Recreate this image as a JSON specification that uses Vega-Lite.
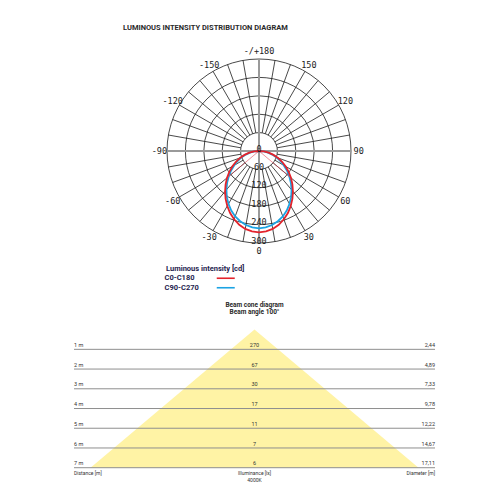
{
  "$schema": "https://vega.github.io/schema/vega-lite/v6.json",
  "description": "Luminous intensity distribution (polar) and beam cone diagram.",
  "padding": {"left": 73, "top": 0, "right": 0, "bottom": 0},
  "bounds": "flush",
  "spacing": 4,
  "background": "white",
  "config": {"view": {"stroke": null}, "text": {"font": "Roboto"}},
  "datasets": {
    "rings": [
      {"r": 0, "label": "0"},
      {"r": 60, "label": "60"},
      {"r": 120, "label": "120"},
      {"r": 180, "label": "180"},
      {"r": 240, "label": "240"},
      {"r": 300, "label": "300"}
    ],
    "spokes": [
      {"angle": 0}, {"angle": 10}, {"angle": 20}, {"angle": 30}, {"angle": 40}, {"angle": 50},
      {"angle": 60}, {"angle": 70}, {"angle": 80}, {"angle": 90}, {"angle": 100}, {"angle": 110},
      {"angle": 120}, {"angle": 130}, {"angle": 140}, {"angle": 150}, {"angle": 160}, {"angle": 170},
      {"angle": 180}, {"angle": 190}, {"angle": 200}, {"angle": 210}, {"angle": 220}, {"angle": 230},
      {"angle": 240}, {"angle": 250}, {"angle": 260}, {"angle": 270}, {"angle": 280}, {"angle": 290},
      {"angle": 300}, {"angle": 310}, {"angle": 320}, {"angle": 330}, {"angle": 340}, {"angle": 350}
    ],
    "angleLabels": [
      {"angle": 180, "label": "-/+180"},
      {"angle": 150, "label": "150"},
      {"angle": 120, "label": "120"},
      {"angle": 90, "label": "90"},
      {"angle": 60, "label": "60"},
      {"angle": 30, "label": "30"},
      {"angle": 0, "label": "0"},
      {"angle": -30, "label": "-30"},
      {"angle": -60, "label": "-60"},
      {"angle": -90, "label": "-90"},
      {"angle": -120, "label": "-120"},
      {"angle": -150, "label": "-150"}
    ],
    "beam": [
      {"angle": -50, "cd": 132},
      {"angle": 50, "cd": 132}
    ],
    "curves": [
      {"series": "C0-C180", "angle": -90, "cd": 0},
      {"series": "C0-C180", "angle": -85, "cd": 16},
      {"series": "C0-C180", "angle": -80, "cd": 32},
      {"series": "C0-C180", "angle": -75, "cd": 49},
      {"series": "C0-C180", "angle": -70, "cd": 66},
      {"series": "C0-C180", "angle": -65, "cd": 83},
      {"series": "C0-C180", "angle": -60, "cd": 100},
      {"series": "C0-C180", "angle": -55, "cd": 118},
      {"series": "C0-C180", "angle": -50, "cd": 136},
      {"series": "C0-C180", "angle": -45, "cd": 154},
      {"series": "C0-C180", "angle": -40, "cd": 172},
      {"series": "C0-C180", "angle": -35, "cd": 190},
      {"series": "C0-C180", "angle": -30, "cd": 207},
      {"series": "C0-C180", "angle": -25, "cd": 223},
      {"series": "C0-C180", "angle": -20, "cd": 237},
      {"series": "C0-C180", "angle": -15, "cd": 249},
      {"series": "C0-C180", "angle": -10, "cd": 258},
      {"series": "C0-C180", "angle": -5, "cd": 263},
      {"series": "C0-C180", "angle": 0, "cd": 265},
      {"series": "C0-C180", "angle": 5, "cd": 263},
      {"series": "C0-C180", "angle": 10, "cd": 258},
      {"series": "C0-C180", "angle": 15, "cd": 249},
      {"series": "C0-C180", "angle": 20, "cd": 237},
      {"series": "C0-C180", "angle": 25, "cd": 223},
      {"series": "C0-C180", "angle": 30, "cd": 207},
      {"series": "C0-C180", "angle": 35, "cd": 190},
      {"series": "C0-C180", "angle": 40, "cd": 172},
      {"series": "C0-C180", "angle": 45, "cd": 154},
      {"series": "C0-C180", "angle": 50, "cd": 136},
      {"series": "C0-C180", "angle": 55, "cd": 118},
      {"series": "C0-C180", "angle": 60, "cd": 100},
      {"series": "C0-C180", "angle": 65, "cd": 83},
      {"series": "C0-C180", "angle": 70, "cd": 66},
      {"series": "C0-C180", "angle": 75, "cd": 49},
      {"series": "C0-C180", "angle": 80, "cd": 32},
      {"series": "C0-C180", "angle": 85, "cd": 16},
      {"series": "C0-C180", "angle": 90, "cd": 0},
      {"series": "C90-C270", "angle": -90, "cd": 0},
      {"series": "C90-C270", "angle": -85, "cd": 15},
      {"series": "C90-C270", "angle": -80, "cd": 30},
      {"series": "C90-C270", "angle": -75, "cd": 45},
      {"series": "C90-C270", "angle": -70, "cd": 61},
      {"series": "C90-C270", "angle": -65, "cd": 77},
      {"series": "C90-C270", "angle": -60, "cd": 93},
      {"series": "C90-C270", "angle": -55, "cd": 111},
      {"series": "C90-C270", "angle": -50, "cd": 129},
      {"series": "C90-C270", "angle": -45, "cd": 147},
      {"series": "C90-C270", "angle": -40, "cd": 165},
      {"series": "C90-C270", "angle": -35, "cd": 183},
      {"series": "C90-C270", "angle": -30, "cd": 199},
      {"series": "C90-C270", "angle": -25, "cd": 214},
      {"series": "C90-C270", "angle": -20, "cd": 227},
      {"series": "C90-C270", "angle": -15, "cd": 237},
      {"series": "C90-C270", "angle": -10, "cd": 245},
      {"series": "C90-C270", "angle": -5, "cd": 250},
      {"series": "C90-C270", "angle": 0, "cd": 252},
      {"series": "C90-C270", "angle": 5, "cd": 250},
      {"series": "C90-C270", "angle": 10, "cd": 245},
      {"series": "C90-C270", "angle": 15, "cd": 237},
      {"series": "C90-C270", "angle": 20, "cd": 227},
      {"series": "C90-C270", "angle": 25, "cd": 214},
      {"series": "C90-C270", "angle": 30, "cd": 199},
      {"series": "C90-C270", "angle": 35, "cd": 183},
      {"series": "C90-C270", "angle": 40, "cd": 165},
      {"series": "C90-C270", "angle": 45, "cd": 147},
      {"series": "C90-C270", "angle": 50, "cd": 129},
      {"series": "C90-C270", "angle": 55, "cd": 111},
      {"series": "C90-C270", "angle": 60, "cd": 93},
      {"series": "C90-C270", "angle": 65, "cd": 77},
      {"series": "C90-C270", "angle": 70, "cd": 61},
      {"series": "C90-C270", "angle": 75, "cd": 45},
      {"series": "C90-C270", "angle": 80, "cd": 30},
      {"series": "C90-C270", "angle": 85, "cd": 15},
      {"series": "C90-C270", "angle": 90, "cd": 0}
    ],
    "cone": [
      {"d": 1, "label": "1 m", "lux": 270, "diam": "2,44"},
      {"d": 2, "label": "2 m", "lux": 67, "diam": "4,89"},
      {"d": 3, "label": "3 m", "lux": 30, "diam": "7,33"},
      {"d": 4, "label": "4 m", "lux": 17, "diam": "9,78"},
      {"d": 5, "label": "5 m", "lux": 11, "diam": "12,22"},
      {"d": 6, "label": "6 m", "lux": 7, "diam": "14,67"},
      {"d": 7, "label": "7 m", "lux": 6, "diam": "17,11"}
    ],
    "coneShape": [
      {"d": 0, "left": 0, "right": 0},
      {"d": 7, "left": -8.555, "right": 8.555}
    ]
  },
  "vconcat": [
    {
      "width": 361,
      "height": 296,
      "title": {
        "text": "LUMINOUS INTENSITY DISTRIBUTION DIAGRAM",
        "anchor": "start",
        "frame": "group",
        "offset": -35,
        "dx": 49,
        "baseline": "middle",
        "font": "Roboto",
        "fontSize": 7.5,
        "fontWeight": "bold",
        "color": "#2a2a2a"
      },
      "layer": [
        {
          "data": {"name": "rings"},
          "transform": [{"filter": "datum.r > 0"}],
          "mark": {"type": "point", "shape": "circle", "filled": false, "stroke": "#1a1a1a", "strokeWidth": 0.8, "opacity": 1},
          "encoding": {
            "x": {"datum": 0, "type": "quantitative", "scale": {"domain": [-603.26, 573.91], "nice": false, "zero": false}, "axis": null},
            "y": {"datum": 0, "type": "quantitative", "scale": {"domain": [-472.8, 492.4], "nice": false, "zero": false}, "axis": null},
            "size": {"field": "r", "type": "quantitative", "scale": {"type": "pow", "exponent": 2, "domain": [0, 300], "range": [0, 33856]}, "legend": null}
          }
        },
        {
          "data": {"name": "spokes"},
          "transform": [
            {"calculate": "60 * sin(datum.angle * PI / 180)", "as": "sx1"},
            {"calculate": "-60 * cos(datum.angle * PI / 180)", "as": "sy1"},
            {"calculate": "300 * sin(datum.angle * PI / 180)", "as": "sx2"},
            {"calculate": "-300 * cos(datum.angle * PI / 180)", "as": "sy2"}
          ],
          "mark": {"type": "rule", "color": "#1a1a1a", "strokeWidth": 0.8},
          "encoding": {
            "x": {"field": "sx1", "type": "quantitative", "scale": {"domain": [-603.26, 573.91], "nice": false, "zero": false}, "axis": null},
            "y": {"field": "sy1", "type": "quantitative", "scale": {"domain": [-472.8, 492.4], "nice": false, "zero": false}, "axis": null},
            "x2": {"field": "sx2"},
            "y2": {"field": "sy2"}
          }
        },
        {
          "data": {"name": "spokes"},
          "transform": [
            {"filter": "datum.angle == 0 || datum.angle == 90"},
            {"calculate": "-300 * sin(datum.angle * PI / 180)", "as": "ax1"},
            {"calculate": "300 * cos(datum.angle * PI / 180)", "as": "ay1"},
            {"calculate": "300 * sin(datum.angle * PI / 180)", "as": "ax2"},
            {"calculate": "-300 * cos(datum.angle * PI / 180)", "as": "ay2"}
          ],
          "mark": {"type": "rule", "color": "#9a9a9a", "strokeWidth": 2},
          "encoding": {
            "x": {"field": "ax1", "type": "quantitative", "scale": {"domain": [-603.26, 573.91], "nice": false, "zero": false}, "axis": null},
            "y": {"field": "ay1", "type": "quantitative", "scale": {"domain": [-472.8, 492.4], "nice": false, "zero": false}, "axis": null},
            "x2": {"field": "ax2"},
            "y2": {"field": "ay2"}
          }
        },
        {
          "data": {"name": "curves"},
          "transform": [
            {"filter": "datum.series === 'C90-C270'"},
            {"calculate": "datum.cd * sin(datum.angle * PI / 180)", "as": "px"},
            {"calculate": "-datum.cd * cos(datum.angle * PI / 180)", "as": "py"}
          ],
          "mark": {"type": "line", "strokeWidth": 1.8},
          "encoding": {
            "x": {"field": "px", "type": "quantitative", "scale": {"domain": [-603.26, 573.91], "nice": false, "zero": false}, "axis": null},
            "y": {"field": "py", "type": "quantitative", "scale": {"domain": [-472.8, 492.4], "nice": false, "zero": false}, "axis": null},
            "order": {"field": "angle", "type": "quantitative"},
            "stroke": {
              "field": "series",
              "type": "nominal",
              "scale": {"domain": ["C0-C180", "C90-C270"], "range": ["#e3232c", "#1ca3e3"]},
              "legend": {
                "title": "Luminous intensity [cd]",
                "orient": "none",
                "legendX": 92,
                "legendY": 265,
                "direction": "vertical",
                "padding": 0,
                "symbolType": "M47,0L65,0",
                "symbolSize": 4,
                "symbolStrokeWidth": 1.6,
                "labelOffset": -9,
                "labelFont": "Roboto",
                "labelFontSize": 7.5,
                "labelFontWeight": "bold",
                "labelColor": "#262450",
                "titleFont": "Roboto",
                "titleFontSize": 7.5,
                "titleFontWeight": "bold",
                "titleColor": "#262450",
                "titlePadding": 2,
                "rowPadding": 0.5
              }
            }
          }
        },
        {
          "data": {"name": "curves"},
          "transform": [
            {"filter": "datum.series === 'C0-C180'"},
            {"calculate": "datum.cd * sin(datum.angle * PI / 180)", "as": "px"},
            {"calculate": "-datum.cd * cos(datum.angle * PI / 180)", "as": "py"}
          ],
          "mark": {"type": "line", "strokeWidth": 1.8},
          "encoding": {
            "x": {"field": "px", "type": "quantitative", "scale": {"domain": [-603.26, 573.91], "nice": false, "zero": false}, "axis": null},
            "y": {"field": "py", "type": "quantitative", "scale": {"domain": [-472.8, 492.4], "nice": false, "zero": false}, "axis": null},
            "order": {"field": "angle", "type": "quantitative"},
            "stroke": {"field": "series", "type": "nominal"}
          }
        },
        {
          "data": {"name": "beam"},
          "transform": [
            {"calculate": "0", "as": "bx0"},
            {"calculate": "0", "as": "by0"},
            {"calculate": "datum.cd * sin(datum.angle * PI / 180)", "as": "bx"},
            {"calculate": "-datum.cd * cos(datum.angle * PI / 180)", "as": "by"}
          ],
          "mark": {"type": "rule", "color": "#e0485a", "strokeWidth": 0.6},
          "encoding": {
            "x": {"field": "bx0", "type": "quantitative", "scale": {"domain": [-603.26, 573.91], "nice": false, "zero": false}, "axis": null},
            "y": {"field": "by0", "type": "quantitative", "scale": {"domain": [-472.8, 492.4], "nice": false, "zero": false}, "axis": null},
            "x2": {"field": "bx"},
            "y2": {"field": "by"}
          }
        },
        {
          "data": {"name": "rings"},
          "transform": [{"calculate": "-datum.r", "as": "ry"}],
          "mark": {"type": "text", "font": "DejaVu Sans Mono", "fontSize": 8.5, "align": "center", "baseline": "alphabetic", "dy": 0.5, "color": "#222222"},
          "encoding": {
            "x": {"datum": 0, "type": "quantitative", "scale": {"domain": [-603.26, 573.91], "nice": false, "zero": false}, "axis": null},
            "y": {"field": "ry", "type": "quantitative", "scale": {"domain": [-472.8, 492.4], "nice": false, "zero": false}, "axis": null},
            "text": {"field": "label", "type": "nominal"}
          }
        },
        {
          "data": {"name": "angleLabels"},
          "transform": [
            {"calculate": "325 * sin(datum.angle * PI / 180)", "as": "lx"},
            {"calculate": "-325 * cos(datum.angle * PI / 180)", "as": "ly"}
          ],
          "mark": {"type": "text", "font": "DejaVu Sans Mono", "fontSize": 8.5, "align": "center", "baseline": "middle", "color": "#222222"},
          "encoding": {
            "x": {"field": "lx", "type": "quantitative", "scale": {"domain": [-603.26, 573.91], "nice": false, "zero": false}, "axis": null},
            "y": {"field": "ly", "type": "quantitative", "scale": {"domain": [-472.8, 492.4], "nice": false, "zero": false}, "axis": null},
            "text": {"field": "label", "type": "nominal"}
          }
        }
      ]
    },
    {
      "width": 361,
      "height": 190,
      "title": {
        "text": ["Beam cone diagram", "Beam angle 100°"],
        "anchor": "middle",
        "frame": "group",
        "offset": -15.2,
        "baseline": "top",
        "lineHeight": 7,
        "font": "Roboto",
        "fontSize": 6.5,
        "fontWeight": "bold",
        "color": "#2a2a2a"
      },
      "layer": [
        {
          "data": {"name": "coneShape"},
          "mark": {"type": "area", "orient": "horizontal", "color": "#fff3a5", "opacity": 1},
          "encoding": {
            "y": {"field": "d", "type": "quantitative", "scale": {"domain": [-1.5003, 8.1298], "nice": false, "zero": false, "reverse": true}, "axis": null},
            "x": {"field": "left", "type": "quantitative", "scale": {"domain": [-9.416, 9.416], "nice": false, "zero": false}, "axis": null},
            "x2": {"field": "right"}
          }
        },
        {
          "data": {"name": "cone"},
          "mark": {"type": "rule", "color": "#8f8f8f", "strokeWidth": 1},
          "encoding": {
            "y": {"field": "d", "type": "quantitative", "scale": {"domain": [-1.5003, 8.1298], "nice": false, "zero": false, "reverse": true}, "axis": null}
          }
        },
        {
          "data": {"name": "cone"},
          "mark": {"type": "text", "fontSize": 5.5, "align": "left", "baseline": "alphabetic", "dy": -2.4, "color": "#333333"},
          "encoding": {
            "y": {"field": "d", "type": "quantitative", "scale": {"domain": [-1.5003, 8.1298], "nice": false, "zero": false, "reverse": true}, "axis": null},
            "x": {"datum": -9.416, "type": "quantitative", "scale": {"domain": [-9.416, 9.416], "nice": false, "zero": false}, "axis": null},
            "text": {"field": "label", "type": "nominal"}
          }
        },
        {
          "data": {"name": "cone"},
          "mark": {"type": "text", "fontSize": 5.5, "align": "center", "baseline": "alphabetic", "dy": -2.4, "color": "#333333"},
          "encoding": {
            "y": {"field": "d", "type": "quantitative", "scale": {"domain": [-1.5003, 8.1298], "nice": false, "zero": false, "reverse": true}, "axis": null},
            "x": {"datum": 0, "type": "quantitative", "scale": {"domain": [-9.416, 9.416], "nice": false, "zero": false}, "axis": null},
            "text": {"field": "lux", "type": "nominal"}
          }
        },
        {
          "data": {"name": "cone"},
          "mark": {"type": "text", "fontSize": 5.5, "align": "right", "baseline": "alphabetic", "dy": -2.4, "color": "#333333"},
          "encoding": {
            "y": {"field": "d", "type": "quantitative", "scale": {"domain": [-1.5003, 8.1298], "nice": false, "zero": false, "reverse": true}, "axis": null},
            "x": {"datum": 9.416, "type": "quantitative", "scale": {"domain": [-9.416, 9.416], "nice": false, "zero": false}, "axis": null},
            "text": {"field": "diam", "type": "nominal"}
          }
        },
        {
          "data": {"values": [{"t": "Distance [m]"}]},
          "mark": {"type": "text", "fontSize": 5, "align": "left", "baseline": "top", "dy": 3.1, "color": "#333333"},
          "encoding": {
            "y": {"datum": 7, "type": "quantitative", "scale": {"domain": [-1.5003, 8.1298], "nice": false, "zero": false, "reverse": true}, "axis": null},
            "x": {"datum": -9.416, "type": "quantitative", "scale": {"domain": [-9.416, 9.416], "nice": false, "zero": false}, "axis": null},
            "text": {"field": "t", "type": "nominal"}
          }
        },
        {
          "data": {"values": [{"t": ["Illuminance [lx]", "4000K"]}]},
          "mark": {"type": "text", "fontSize": 5, "align": "center", "baseline": "top", "lineHeight": 7, "dy": 3.1, "color": "#333333"},
          "encoding": {
            "y": {"datum": 7, "type": "quantitative", "scale": {"domain": [-1.5003, 8.1298], "nice": false, "zero": false, "reverse": true}, "axis": null},
            "x": {"datum": 0, "type": "quantitative", "scale": {"domain": [-9.416, 9.416], "nice": false, "zero": false}, "axis": null},
            "text": {"field": "t", "type": "nominal"}
          }
        },
        {
          "data": {"values": [{"t": "Diameter [m]"}]},
          "mark": {"type": "text", "fontSize": 5, "align": "right", "baseline": "top", "dy": 3.1, "color": "#333333"},
          "encoding": {
            "y": {"datum": 7, "type": "quantitative", "scale": {"domain": [-1.5003, 8.1298], "nice": false, "zero": false, "reverse": true}, "axis": null},
            "x": {"datum": 9.416, "type": "quantitative", "scale": {"domain": [-9.416, 9.416], "nice": false, "zero": false}, "axis": null},
            "text": {"field": "t", "type": "nominal"}
          }
        }
      ]
    }
  ]
}
